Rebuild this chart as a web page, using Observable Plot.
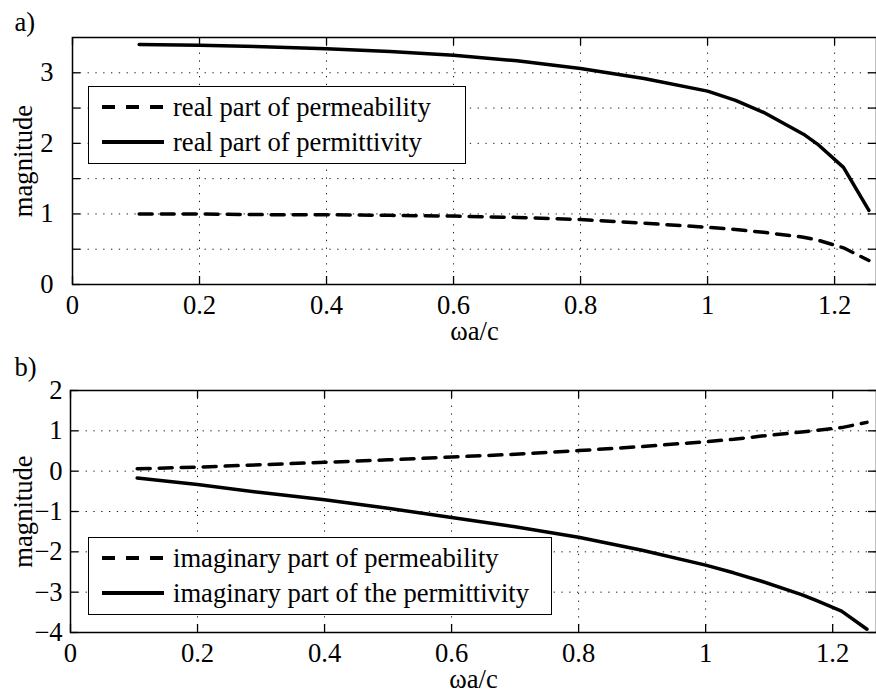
<!DOCTYPE html>
<html>
<head>
<meta charset="utf-8">
<script src="https://cdn.jsdelivr.net/npm/d3@7"></script>
<script src="https://cdn.jsdelivr.net/npm/@observablehq/plot@0.6"></script>
<style>
  body { margin: 0; background: #fff; }
  #wrap { position: relative; width: 876px; height: 693px; overflow: hidden;
          font-family: "Liberation Serif", Tinos, "Times New Roman", "Nimbus Roman", "DejaVu Serif", serif; color: #000; }
  .panel { position: absolute; left: 0; }
  .legend { position: absolute; border: 1.5px solid #000; background: #fff; box-sizing: border-box; }
  .row { position: absolute; left: 0; font-size: 26.6px; line-height: 1; white-space: nowrap; }
  .row svg { position: absolute; left: 13px; top: 0; }
  .row span { position: absolute; left: 84px; top: 0; }
</style>
</head>
<body>
<div id="wrap"></div>
<script>
// normalised frequency ωa/c
const omega = [0.105, 0.2, 0.3, 0.4, 0.5, 0.6, 0.7, 0.8, 0.9, 1.0, 1.044, 1.088, 1.151, 1.173, 1.214, 1.254];

// real parts
const reMu  = [1.00, 1.00, 0.99, 0.99, 0.98, 0.97, 0.95, 0.92, 0.87, 0.81, 0.78, 0.74, 0.67, 0.63, 0.52, 0.34];
const reEps = [3.40, 3.39, 3.37, 3.34, 3.30, 3.25, 3.17, 3.06, 2.92, 2.74, 2.61, 2.44, 2.13, 1.99, 1.66, 1.05];

// imaginary parts
const imMu  = [0.06, 0.10, 0.16, 0.22, 0.28, 0.35, 0.42, 0.51, 0.61, 0.73, 0.79, 0.87, 0.97, 1.01, 1.08, 1.21];
const imEps = [-0.17, -0.33, -0.53, -0.71, -0.92, -1.15, -1.38, -1.64, -1.96, -2.33, -2.52, -2.73, -3.06, -3.20, -3.47, -3.92];

const xTicks = [0, 0.2, 0.4, 0.6, 0.8, 1, 1.2];
const yTicksA = [0, 0.5, 1, 1.5, 2, 2.5, 3];
const yLabelsA = [0, 1, 2, 3];
const yTicksB = [-4, -3, -2, -1, 0, 1, 2];

const legendA = ["real part of permeability", "real part of permittivity"];
const legendB = ["imaginary part of permeability", "imaginary part of the permittivity"];

const FONT = "'Liberation Serif', Tinos, 'Times New Roman', 'Nimbus Roman', 'DejaVu Serif', serif";
const FS = 26.6;
const DASH = "13,9";
const W = 876, MR = 0;
const fmt = d => d < 0 ? "\u2212" + Math.abs(d) : String(d);

function panel({tag, height, marginLeft, marginTop, marginBottom, xMax, yDomain, yTicks, yLabels, yPad, dashed, solid}) {
  const frameH = height - marginTop - marginBottom;
  const frameW = W - marginLeft - MR;
  const tk = 8;
  const rows = (ys) => omega.map((x, i) => ({x, y: ys[i]}));
  return Plot.plot({
    width: W, height, marginLeft, marginRight: MR, marginTop, marginBottom,
    style: {fontFamily: FONT, fontSize: FS + "px", color: "#000", background: "transparent", overflow: "visible"},
    x: {domain: [0, xMax]},
    y: {domain: yDomain},
    marks: [
      // dotted grid
      Plot.gridX(xTicks.slice(1), {stroke: "#000", strokeOpacity: 0.9, strokeWidth: 1, strokeDasharray: "1.3,6.5"}),
      Plot.gridY(yTicks, {stroke: "#000", strokeOpacity: 0.9, strokeWidth: 1, strokeDasharray: "1.3,6.5"}),
      // inward tick marks on all four sides
      Plot.ruleX(xTicks, {x: d => d, insetTop: frameH - tk, stroke: "#000", strokeWidth: 1.3}),
      Plot.ruleX(xTicks, {x: d => d, insetBottom: frameH - tk, stroke: "#000", strokeWidth: 1.3}),
      Plot.ruleY(yTicks, {y: d => d, insetRight: frameW - tk, stroke: "#000", strokeWidth: 1.3}),
      Plot.ruleY(yTicks, {y: d => d, insetLeft: frameW - tk, stroke: "#000", strokeWidth: 1.3}),
      // tick labels
      Plot.axisX(xTicks, {tickSize: 0, tickPadding: 11, tickFormat: fmt, fontSize: FS, label: null}),
      Plot.axisY(yLabels, {tickSize: 0, tickPadding: yPad, tickFormat: fmt, fontSize: FS, label: null}),
      // curves
      Plot.line(rows(dashed), {x: "x", y: "y", stroke: "#000", strokeWidth: 3.5, strokeDasharray: DASH}),
      Plot.line(rows(solid), {x: "x", y: "y", stroke: "#000", strokeWidth: 3.5}),
      Plot.frame({stroke: "#000", strokeWidth: 1.5}),
      // panel tag, axis titles
      Plot.text([tag], {frameAnchor: "top-left", dx: 14 - marginLeft, dy: -(marginTop - 30), textAnchor: "start", lineAnchor: "bottom", fontSize: FS}),
      Plot.text(["magnitude"], {frameAnchor: "left", dx: 23 - marginLeft, rotate: -90, textAnchor: "middle", lineAnchor: "middle", fontSize: FS}),
      Plot.text(["\u03c9a/c"], {frameAnchor: "bottom", dx: 0, dy: 55, textAnchor: "middle", lineAnchor: "bottom", fontSize: FS})
    ]
  });
}

function legend(parent, {left, top, width, height, labels, rowTops}) {
  const box = document.createElement("div");
  box.className = "legend";
  Object.assign(box.style, {left: left + "px", top: top + "px", width: width + "px", height: height + "px"});
  labels.forEach((label, i) => {
    const row = document.createElement("div");
    row.className = "row";
    row.style.top = rowTops[i] + "px";
    const sw = d3.create("svg").attr("width", 62).attr("height", 26);
    sw.append("line").attr("x1", 0).attr("x2", 62).attr("y1", 13).attr("y2", 13)
      .attr("stroke", "#000").attr("stroke-width", 4)
      .attr("stroke-dasharray", i === 0 ? "13,11" : null);
    row.appendChild(sw.node());
    const span = document.createElement("span");
    span.textContent = label;
    row.appendChild(span);
    box.appendChild(row);
  });
  parent.appendChild(box);
}

const wrap = document.getElementById("wrap");

const a = panel({tag: "a)", height: 345, marginLeft: 72, marginTop: 37, marginBottom: 61, xMax: 1.266,
  yDomain: [0, 3.5], yTicks: yTicksA, yLabels: yLabelsA, yPad: 19, dashed: reMu, solid: reEps});
a.classList.add("panel");
a.style.top = "0px";
wrap.appendChild(a);

const b = panel({tag: "b)", height: 348, marginLeft: 70, marginTop: 45, marginBottom: 61, xMax: 1.269,
  yDomain: [-4, 2], yTicks: yTicksB, yLabels: yTicksB, yPad: 8, dashed: imMu, solid: imEps});
b.classList.add("panel");
b.style.top = "345px";
wrap.appendChild(b);

legend(wrap, {left: 88, top: 86, width: 378, height: 78, labels: legendA, rowTops: [7, 42]});
legend(wrap, {left: 88, top: 537, width: 464, height: 78, labels: legendB, rowTops: [7, 42]});
</script>
</body>
</html>
